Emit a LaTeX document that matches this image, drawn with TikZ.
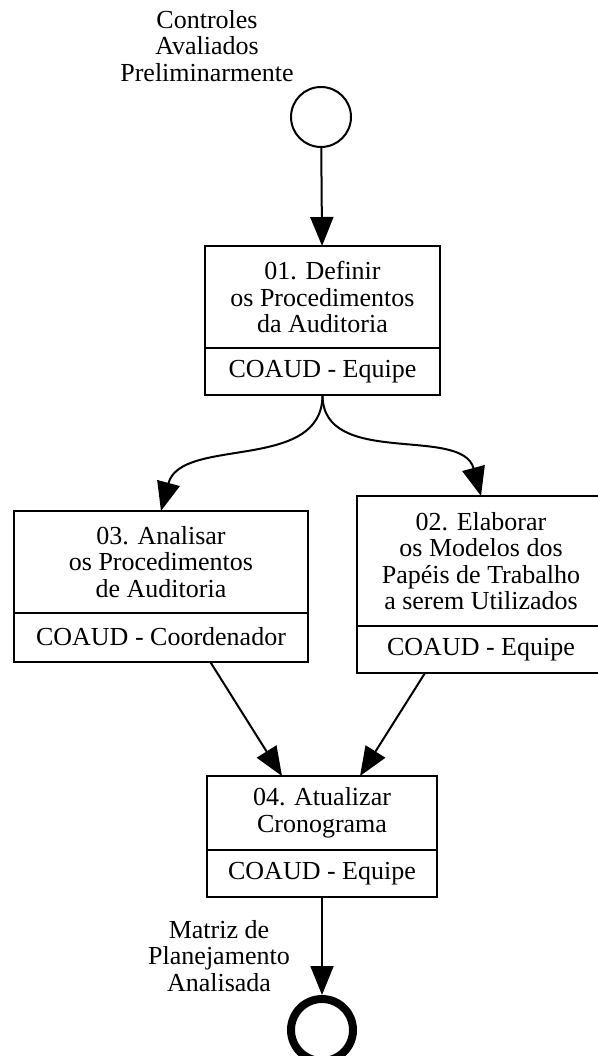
\documentclass[tikz,border=0pt]{standalone}
\usepackage{fontspec}
\setmainfont{Liberation Serif}
\usetikzlibrary{arrows.meta}
\begin{document}
\begin{tikzpicture}[x=1pt,y=-1pt,
  txt/.style={font=\fontsize{26}{26.5}\selectfont, align=center, inner sep=0pt},
  box/.style={draw, line width=2pt, txt, outer sep=0pt, minimum width=#1},
  arr/.style={-{Triangle[length=29pt,width=23pt]}, line width=2pt},
  startev/.style={draw, circle, line width=2pt, minimum size=60pt, inner sep=0pt},
  endev/.style={draw, circle, line width=8pt, minimum size=62pt, inner sep=0pt},
]
\useasboundingbox (0,0) rectangle (597,1056);
% start event and label
\node[startev] (start) at (321,117) {};
\node[txt] (lin) at (207,46) {Controles\\Avaliados\\Preliminarmente};
% box 01
\node[box=235pt, minimum height=102pt] (b1) at (322.5,297) {01. Definir\\os Procedimentos\\da Auditoria};
\node[box=235pt, minimum height=47pt, anchor=north] (b1r) at (b1.south) {COAUD - Equipe};
% box 03
\node[box=294pt, minimum height=101.5pt] (b3) at (161,561.75) {03. Analisar\\os Procedimentos\\de Auditoria};
\node[box=294pt, minimum height=49pt, anchor=north] (b3r) at (b3.south) {COAUD - Coordenador};
% box 02
\node[box=248pt, minimum height=130pt] (b2) at (481,561) {02. Elaborar\\os Modelos dos\\Papéis de Trabalho\\a serem Utilizados};
\node[box=248pt, minimum height=47pt, anchor=north] (b2r) at (b2.south) {COAUD - Equipe};
% box 04
\node[box=230pt, minimum height=74pt] (b4) at (322,813) {04. Atualizar\\Cronograma};
\node[box=230pt, minimum height=47pt, anchor=north] (b4r) at (b4.south) {COAUD - Equipe};
% end event and label
\node[endev] (end) at (322,1030) {};
\node[txt] (lout) at (219,956) {Matriz de\\Planejamento\\Analisada};
% connectors
\draw[arr] (start) -- (b1);
\draw[arr] (b1r.south) to[out=-90,in=75] (b3.north);
\draw[arr] (b1r.south) to[out=-90,in=105] (b2.north);
\draw[arr] ([xshift=49pt]b3r.south) -- ([xshift=-40pt]b4.north);
\draw[arr] ([xshift=-56pt]b2r.south) -- ([xshift=38pt]b4.north);
\draw[arr] (b4r) -- (end);
\end{tikzpicture}
\end{document}
